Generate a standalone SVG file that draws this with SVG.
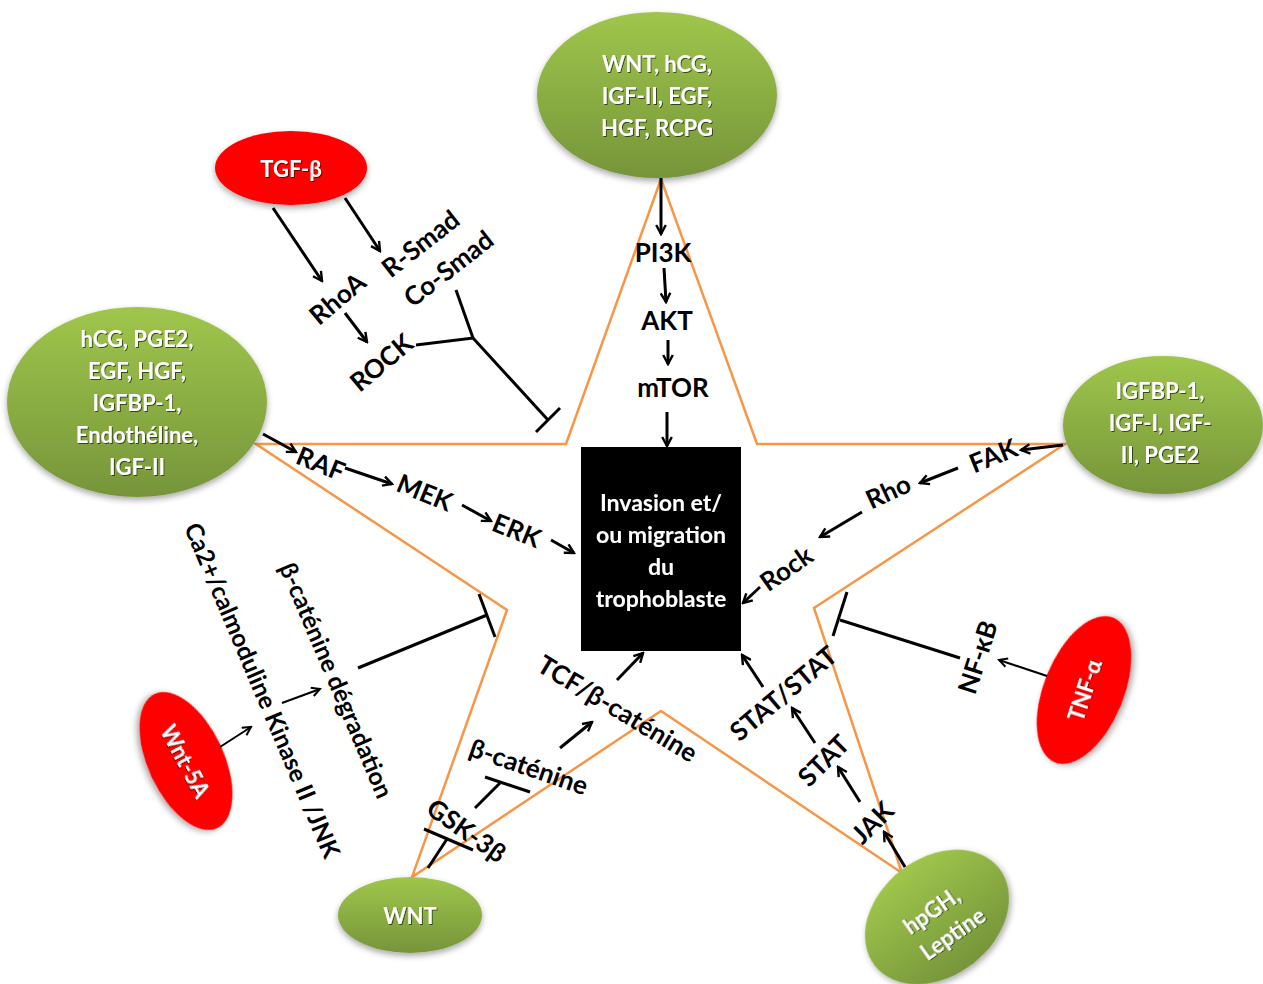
<svg xmlns="http://www.w3.org/2000/svg" width="1263" height="984" viewBox="0 0 1263 984">
<defs>
<linearGradient id="gr" x1="0" y1="0" x2="0" y2="1">
<stop offset="0" stop-color="#9fc64c"/>
<stop offset="1" stop-color="#76953a"/>
</linearGradient>
<filter id="sh" x="-20%" y="-20%" width="140%" height="150%">
<feDropShadow dx="0" dy="3" stdDeviation="3" flood-color="#000" flood-opacity="0.35"/>
</filter>
<filter id="ts" x="-10%" y="-10%" width="120%" height="130%">
<feDropShadow dx="1" dy="1" stdDeviation="0.6" flood-color="#000" flood-opacity="0.6"/>
</filter>
<marker id="ah" viewBox="0 0 10 10" refX="8.5" refY="5" markerWidth="4" markerHeight="4" orient="auto" markerUnits="strokeWidth">
<polyline points="1,1 8.5,5 1,9" fill="none" stroke="#000" stroke-width="2"/>
</marker>
<marker id="ah2" viewBox="0 0 10 10" refX="8.5" refY="5" markerWidth="5.5" markerHeight="5.5" orient="auto" markerUnits="strokeWidth">
<polyline points="1,1 8.5,5 1,9" fill="none" stroke="#000" stroke-width="1.8"/>
</marker>
</defs>
<style>
.star{fill:none;stroke:#F79646;stroke-width:2.5;stroke-linejoin:miter}
.g{fill:url(#gr);filter:url(#sh)}
.r{fill:#FF0000;filter:url(#sh)}
.wt{font-family:Lato,"Open Sans",sans-serif;font-weight:bold;fill:#fff;text-anchor:middle;dominant-baseline:central;font-size:22px;filter:url(#ts)}
.bx{font-size:23px}
.bt{font-family:Lato,"Open Sans",sans-serif;font-weight:bold;fill:#000;text-anchor:middle;dominant-baseline:central;font-size:26px}
.mt{font-size:24.5px}
.a{stroke:#000;stroke-width:3;fill:none;marker-end:url(#ah)}
.at{stroke:#000;stroke-width:2;fill:none;marker-end:url(#ah2)}
.i{stroke:#000;stroke-width:3;fill:none;stroke-linecap:butt}
</style>
<rect width="1263" height="984" fill="#fff"/>
<polygon class="star" points="661,179 757,444 1065,444 814,608 902,873 661,711 412,877 507,610 256,444 566,444"/>

<g id="box">
<rect x="581" y="447" width="160" height="204" fill="#000"/>
<text class="wt bx" x="661" y="502">Invasion et/</text>
<text class="wt bx" x="661" y="534">ou migration</text>
<text class="wt bx" x="661" y="566">du</text>
<text class="wt bx" x="661" y="598">trophoblaste</text>
</g>

<g id="n-top">
<ellipse class="g" cx="657" cy="95" rx="120" ry="83"/>
<text class="wt" x="657" y="63">WNT, hCG,</text>
<text class="wt" x="657" y="95">IGF-II, EGF,</text>
<text class="wt" x="657" y="127">HGF, RCPG</text>
</g>
<g id="n-left">
<ellipse class="g" cx="137" cy="402" rx="130" ry="95"/>
<text class="wt" x="137" y="338">hCG, PGE2,</text>
<text class="wt" x="137" y="370">EGF, HGF,</text>
<text class="wt" x="137" y="402">IGFBP-1,</text>
<text class="wt" x="137" y="434">Endothéline,</text>
<text class="wt" x="137" y="466">IGF-II</text>
</g>
<g id="n-right">
<ellipse class="g" cx="1163" cy="425" rx="100" ry="69"/>
<text class="wt" x="1160" y="390">IGFBP-1,</text>
<text class="wt" x="1160" y="422">IGF-I, IGF-</text>
<text class="wt" x="1160" y="454">II, PGE2</text>
</g>
<g id="n-wnt">
<ellipse class="g" cx="410" cy="915" rx="72" ry="38"/>
<text class="wt" x="410" y="915">WNT</text>
</g>
<g id="n-hpgh">
<ellipse class="g" cx="937" cy="917" rx="79" ry="59" transform="rotate(-38 937 917)"/>
<text class="wt" transform="translate(943 920) rotate(-35)" x="-4" y="-15">hpGH,</text>
<text class="wt" transform="translate(943 920) rotate(-35)" x="0" y="16">Leptine</text>
</g>
<g id="n-tgf">
<ellipse class="r" cx="291" cy="168" rx="76" ry="37"/>
<text class="wt" x="291" y="168">TGF-β</text>
</g>
<g id="n-wnt5a">
<ellipse class="r" cx="186" cy="761" rx="74" ry="38" transform="rotate(65 186 761)"/>
<text class="wt" transform="translate(186 761) rotate(62)" x="0" y="0">Wnt-5A</text>
</g>
<g id="n-tnf">
<ellipse class="r" cx="1084" cy="690" rx="78" ry="40" transform="rotate(-68 1084 690)"/>
<text class="wt" transform="translate(1084 690) rotate(-72)" x="0" y="0">TNF-α</text>
</g>

<g id="connectors">
<line class="a" x1="661" y1="178" x2="661" y2="234"/>
<line class="a" x1="664" y1="268" x2="666" y2="302"/>
<line class="a" x1="668" y1="340" x2="668" y2="364"/>
<line class="a" x1="667" y1="412" x2="667" y2="446"/>
<line class="a" x1="263" y1="434" x2="296" y2="452"/>
<line class="a" x1="345" y1="468" x2="392" y2="484"/>
<line class="a" x1="462" y1="505" x2="491" y2="521"/>
<line class="a" x1="551" y1="540" x2="574" y2="553"/>
<line class="a" x1="273" y1="208" x2="322" y2="281"/>
<line class="a" x1="345" y1="198" x2="380" y2="251"/>
<line class="a" x1="345" y1="313" x2="367" y2="342"/>
<line class="a" x1="560" y1="748" x2="592" y2="722"/>
<line class="a" x1="617" y1="680" x2="643" y2="653"/>
<line class="a" x1="905" y1="867" x2="884" y2="832"/>
<line class="a" x1="860" y1="802" x2="838" y2="767"/>
<line class="a" x1="815" y1="743" x2="792" y2="708"/>
<line class="a" x1="763" y1="687" x2="742" y2="655"/>
<line class="a" x1="1063" y1="445" x2="1021" y2="450"/>
<line class="a" x1="958" y1="468" x2="920" y2="483"/>
<line class="a" x1="862" y1="512" x2="820" y2="537"/>
<line class="a" x1="760" y1="587" x2="743" y2="603"/>
<line class="at" x1="220" y1="747" x2="251" y2="727"/>
<line class="at" x1="282" y1="703" x2="320" y2="689"/>
<line class="at" x1="1047" y1="676" x2="999" y2="660"/>
<polyline class="i" points="416,345 473,338 548,420"/>
<line class="i" x1="456" y1="290" x2="473" y2="338"/>
<line class="i" x1="536" y1="432" x2="560" y2="408"/>
<line class="i" x1="358" y1="668" x2="487" y2="615"/>
<line class="i" x1="479" y1="594" x2="495" y2="637"/>
<line class="i" x1="428" y1="868" x2="447" y2="839"/>
<line class="i" x1="424" y1="829" x2="473" y2="850"/>
<line class="i" x1="475" y1="808" x2="500" y2="783"/>
<line class="i" x1="485" y1="777" x2="530" y2="792"/>
<line class="i" x1="960" y1="658" x2="840" y2="620"/>
<line class="i" x1="847" y1="592" x2="833" y2="636"/>
</g>

<g id="labels">
<text class="bt" x="663" y="252">PI3K</text>
<text class="bt" x="667" y="320">AKT</text>
<text class="bt" x="673" y="387">mTOR</text>
<text class="bt" transform="translate(321 463) rotate(22)">RAF</text>
<text class="bt" transform="translate(425 492) rotate(22)">MEK</text>
<text class="bt" transform="translate(517 530) rotate(22)">ERK</text>
<text class="bt" transform="translate(337 298) rotate(-40)">RhoA</text>
<text class="bt" transform="translate(420 243) rotate(-38)">R-Smad</text>
<text class="bt" transform="translate(448 268) rotate(-38)">Co-Smad</text>
<text class="bt" transform="translate(381 362) rotate(-40)">ROCK</text>
<text class="bt mt" transform="translate(337 680) rotate(67)">β-caténine dégradation</text>
<text class="bt mt" transform="translate(263 690) rotate(67)">Ca2+/calmoduline Kinase II /JNK</text>
<text class="bt" transform="translate(467 830) rotate(35)">GSK-3β</text>
<text class="bt" transform="translate(529 766) rotate(19)">β-caténine</text>
<text class="bt" transform="translate(618 708) rotate(31)">TCF/β-caténine</text>
<text class="bt" transform="translate(872 822) rotate(-45)">JAK</text>
<text class="bt" transform="translate(823 760) rotate(-45)">STAT</text>
<text class="bt" transform="translate(783 693) rotate(-40)">STAT/STAT</text>
<text class="bt" transform="translate(993 455) rotate(-22)">FAK</text>
<text class="bt" transform="translate(888 491) rotate(-25)">Rho</text>
<text class="bt" transform="translate(786 568) rotate(-35)">Rock</text>
<text class="bt" transform="translate(977 657) rotate(-72)">NF-κB</text>
</g>
</svg>
